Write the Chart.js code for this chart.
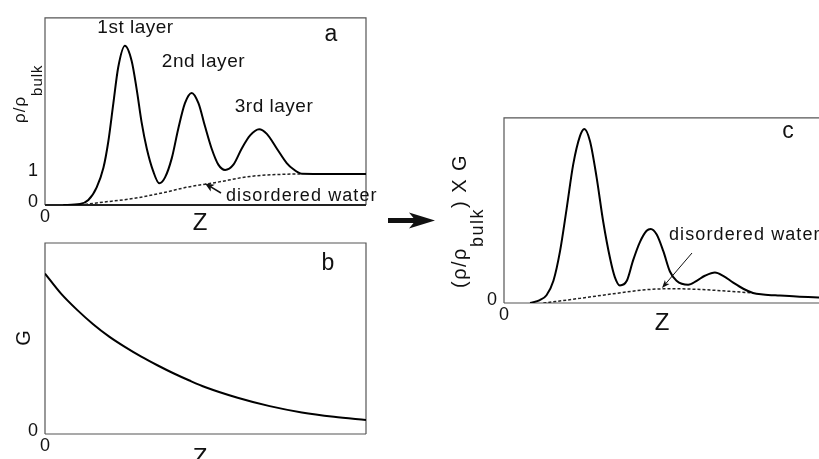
<!DOCTYPE html>
<html>
<head>
<meta charset="utf-8">
<script src="https://cdn.jsdelivr.net/npm/chart.js@4/dist/chart.umd.min.js"></script>
<style>
  html, body { margin: 0; padding: 0; background: #fff; overflow: hidden; width: 819px; height: 459px; position: relative; }
  canvas { position: absolute; }
</style>
</head>
<body>
<canvas id="chartA" width="380" height="235" style="left:0;top:0"></canvas>
<canvas id="chartB" width="380" height="234" style="left:0;top:225px"></canvas>
<canvas id="chartC" width="460" height="240" style="left:380px;top:100px"></canvas>
<script>
// Panel a: layered water density profile
const zA = [0.57, 1.09, 1.35, 1.61, 1.82, 1.97, 2.13, 2.28, 2.49, 2.70, 2.86, 3.01, 3.17, 3.37, 3.56, 3.74, 3.95, 4.15, 4.36, 4.57, 4.78, 4.98, 5.19, 5.40, 5.61, 5.87, 6.13, 6.39, 6.67, 6.91, 7.22, 7.53, 7.74, 8.00, 10];
const rhoA = [0, 0.03, 0.16, 0.57, 1.20, 2.03, 3.28, 4.43, 5.13, 4.64, 3.70, 2.66, 1.82, 1.09, 0.70, 0.89, 1.51, 2.45, 3.28, 3.61, 3.28, 2.55, 1.82, 1.30, 1.13, 1.30, 1.82, 2.24, 2.44, 2.29, 1.82, 1.35, 1.15, 1.01, 1.0];
const zDisA = [1.09, 1.71, 2.75, 3.79, 4.41, 5.35, 6.39, 7.43, 8.00];
const rhoDisA = [0, 0.08, 0.21, 0.42, 0.57, 0.73, 0.92, 0.99, 1.0];

// Panel b: G decay
const zB = [0, 0.5, 1.0, 1.5, 2.0, 2.5, 3.0, 3.5, 4.0, 4.5, 5.0, 6.0, 7.0, 8.0, 9.0, 10];
const gB = [0.84, 0.735, 0.65, 0.575, 0.51, 0.455, 0.405, 0.36, 0.318, 0.28, 0.245, 0.19, 0.146, 0.113, 0.09, 0.073];

// Panel c: product (rho/rho_bulk) x G
const zC = [0.83, 1.14, 1.35, 1.57, 1.78, 1.99, 2.20, 2.41, 2.55, 2.73, 2.94, 3.15, 3.37, 3.52, 3.68, 3.90, 4.10, 4.32, 4.53, 4.66, 4.85, 5.06, 5.27, 5.48, 5.85, 6.12, 6.38, 6.70, 6.96, 7.28, 7.60, 7.91, 8.23, 8.76, 9.29, 10.1];
const rhoGC = [0, 0.016, 0.042, 0.12, 0.28, 0.51, 0.75, 0.90, 0.94, 0.875, 0.68, 0.44, 0.24, 0.14, 0.095, 0.12, 0.23, 0.33, 0.39, 0.40, 0.37, 0.28, 0.17, 0.12, 0.098, 0.12, 0.147, 0.165, 0.147, 0.11, 0.077, 0.054, 0.046, 0.04, 0.035, 0.03];
const zDisC = [1.25, 2.41, 3.47, 4.53, 5.27, 6.12, 7.17, 7.91];
const rhoGDisC = [0, 0.025, 0.05, 0.072, 0.077, 0.074, 0.063, 0.054];

// tick labels
const xTicks = [0];
const yTicksA = [0, 1];
const yTicksB = [0];
const yTicksC = [0];

const FONT = '"Liberation Sans", Arial, sans-serif';
const INK = '#111';

function toPts(xs, ys) {
    return xs.map((x, i) => ({ x: x, y: ys[i] }));
}

function solid(xs, ys) {
    return { data: toPts(xs, ys), borderColor: '#000', borderWidth: 2, cubicInterpolationMode: 'monotone', fill: false };
}

function dashed(xs, ys) {
    return { data: toPts(xs, ys), borderColor: '#222', borderWidth: 1.5, borderDash: [3, 2], cubicInterpolationMode: 'monotone', fill: false };
}

function txt(ctx, s, x, y, size, opts) {
    opts = opts || {};
    ctx.save();
    ctx.font = size + 'px ' + FONT;
    ctx.fillStyle = INK;
    ctx.textAlign = opts.align || 'left';
    ctx.textBaseline = opts.baseline || 'alphabetic';
    ctx.letterSpacing = (opts.ls || 0) + 'px';
    if (opts.rot) {
        ctx.translate(x, y);
        ctx.rotate(-Math.PI / 2);
        ctx.fillText(s, 0, 0);
    } else {
        ctx.fillText(s, x, y);
    }
    ctx.restore();
}

// rotated label made of pieces (main text + subscript), read bottom to top
function rotLabel(ctx, yStart, parts, ls) {
    let y = yStart;
    parts.forEach(p => {
        ctx.save();
        ctx.font = p.size + 'px ' + FONT;
        ctx.letterSpacing = ls + 'px';
        const w = ctx.measureText(p.t).width;
        ctx.restore();
        txt(ctx, p.t, p.x, y, p.size, { rot: true, ls: ls });
        y -= w;
    });
}

function arrow(ctx, x1, y1, x2, y2, lw, head, half) {
    const a = Math.atan2(y2 - y1, x2 - x1);
    const c = Math.cos(a), s = Math.sin(a);
    ctx.save();
    ctx.strokeStyle = INK;
    ctx.fillStyle = INK;
    ctx.lineWidth = lw;
    ctx.beginPath();
    ctx.moveTo(x1, y1);
    ctx.lineTo(x2 - c * head * 0.7, y2 - s * head * 0.7);
    ctx.stroke();
    ctx.beginPath();
    ctx.moveTo(x2, y2);
    ctx.lineTo(x2 - head * c + half * s, y2 - head * s - half * c);
    ctx.lineTo(x2 - head * 0.75 * c, y2 - head * 0.75 * s);
    ctx.lineTo(x2 - head * c - half * s, y2 - head * s + half * c);
    ctx.closePath();
    ctx.fill();
    ctx.restore();
}

function boxPlugin(bottomWidth, drawText) {
    return {
        id: 'panelDeco',
        beforeDatasetsDraw(chart) {
            const a = chart.chartArea;
            const ctx = chart.ctx;
            ctx.save();
            ctx.strokeStyle = '#555';
            ctx.lineWidth = 1.2;
            ctx.beginPath();
            ctx.moveTo(a.left, a.bottom);
            ctx.lineTo(a.left, a.top);
            ctx.lineTo(a.right, a.top);
            ctx.lineTo(a.right, a.bottom);
            ctx.stroke();
            ctx.strokeStyle = bottomWidth > 1.5 ? '#222' : '#555';
            ctx.lineWidth = bottomWidth;
            ctx.beginPath();
            ctx.moveTo(a.left, a.bottom);
            ctx.lineTo(a.right, a.bottom);
            ctx.stroke();
            ctx.restore();
        },
        afterDraw(chart) {
            drawText(chart.ctx);
        }
    };
}

function makeChart(id, datasets, o) {
    return new Chart(document.getElementById(id), {
        type: 'line',
        data: { datasets: datasets },
        options: {
            responsive: false,
            animation: false,
            layout: { padding: { top: o.padTop, right: o.padRight, left: 0, bottom: 0 } },
            elements: { point: { radius: 0 } },
            plugins: { legend: { display: false }, tooltip: { enabled: false } },
            scales: {
                x: {
                    type: 'linear', min: 0, max: o.xMax,
                    grid: { display: false, drawTicks: false },
                    border: { display: false },
                    afterBuildTicks: s => { s.ticks = xTicks.map(v => ({ value: v })); },
                    afterFit: s => { s.height = o.xAxisH; },
                    ticks: { color: INK, font: { family: FONT, size: 18 }, padding: 1, maxRotation: 0, autoSkip: false }
                },
                y: {
                    type: 'linear', min: 0, max: o.yMax,
                    grid: { display: false, drawTicks: false },
                    border: { display: false },
                    afterBuildTicks: s => { s.ticks = o.yTicks.map(v => ({ value: v })); },
                    afterFit: s => { s.width = o.yAxisW; },
                    ticks: { color: INK, font: { family: FONT, size: 18 }, padding: 7, labelOffset: -3, autoSkip: false }
                }
            }
        },
        plugins: [boxPlugin(o.bottomWidth, o.drawText)]
    });
}

// Panel a
makeChart('chartA', [solid(zA, rhoA), dashed(zDisA, rhoDisA)], {
    padTop: 12, padRight: 14, xAxisH: 30, yAxisW: 45, xMax: 10, yMax: 6.03, yTicks: yTicksA, bottomWidth: 2,
    drawText(ctx) {
        txt(ctx, '1st layer', 135.5, 33, 19, { align: 'center', ls: 0.5 });
        txt(ctx, '2nd layer', 203.5, 66.5, 19, { align: 'center', ls: 0.6 });
        txt(ctx, '3rd layer', 274, 111.5, 19, { align: 'center', ls: 0.5 });
        txt(ctx, 'a', 331, 41, 23, { align: 'center' });
        txt(ctx, 'disordered water', 226, 201, 18, { ls: 1.1 });
        arrow(ctx, 221, 193, 205, 183.5, 1.5, 9, 4);
        txt(ctx, 'Z', 200, 230, 24, { align: 'center' });
        rotLabel(ctx, 123, [
            { t: 'ρ/ρ', size: 17, x: 24.5 },
            { t: 'bulk', size: 15, x: 42 }
        ], 1);
    }
});

// Panel b
makeChart('chartB', [solid(zB, gB)], {
    padTop: 18, padRight: 14, xAxisH: 25, yAxisW: 45, xMax: 10, yMax: 1, yTicks: yTicksB, bottomWidth: 1.2,
    drawText(ctx) {
        txt(ctx, 'b', 328, 45, 23, { align: 'center' });
        txt(ctx, 'G', 24, 113, 20, { rot: true, align: 'center', baseline: 'middle' });
        txt(ctx, 'Z', 200, 240, 24, { align: 'center' });
    }
});

// Panel c
makeChart('chartC', [solid(zC, rhoGC), dashed(zDisC, rhoGDisC)], {
    padTop: 13, padRight: 18, xAxisH: 37, yAxisW: 124, xMax: 10.1, yMax: 1, yTicks: yTicksC, bottomWidth: 1.2,
    drawText(ctx) {
        arrow(ctx, 8, 120.5, 55, 120.5, 5, 26, 8);
        txt(ctx, 'c', 408, 38, 23, { align: 'center' });
        txt(ctx, 'disordered water', 289, 140, 18, { ls: 1.1 });
        arrow(ctx, 312, 153, 282, 188, 1, 8, 3);
        txt(ctx, 'Z', 282, 230, 24, { align: 'center' });
        rotLabel(ctx, 188, [
            { t: '(ρ/ρ', size: 20, x: 86 },
            { t: 'bulk', size: 18, x: 103 },
            { t: ') X G', size: 20, x: 86 }
        ], 1.5);
    }
});
</script>
</body>
</html>
